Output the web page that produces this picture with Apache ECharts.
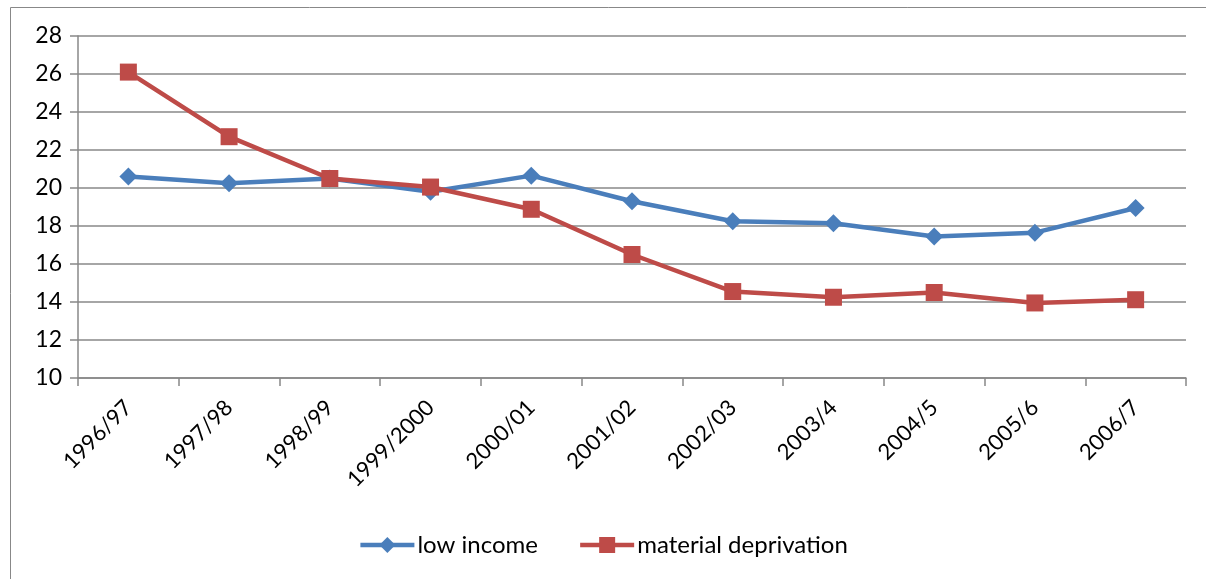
<!DOCTYPE html>
<html><head><meta charset="utf-8">
<script src="https://cdn.jsdelivr.net/npm/echarts@6/dist/echarts.min.js"></script>
<style>html,body{margin:0;padding:0;background:#fff}#c{width:1206px;height:579px}</style>
</head><body><div id="c"></div>
<script>
const categories = ['1996/97','1997/98','1998/99','1999/2000','2000/01','2001/02','2002/03','2003/4','2004/5','2005/6','2006/7'];
const lowIncome = [20.6, 20.25, 20.5, 19.8, 20.65, 19.3, 18.25, 18.15, 17.45, 17.65, 18.95];
const materialDeprivation = [26.1, 22.7, 20.5, 20.05, 18.88, 16.5, 14.55, 14.25, 14.5, 13.95, 14.12];
const yTicks = [10, 12, 14, 16, 18, 20, 22, 24, 26, 28];

const font = 'Lato, "Open Sans", sans-serif';
const chart = echarts.init(document.getElementById('c'));
chart.setOption({
  animation: false,
  graphic: [{type:'rect', shape:{x:10.5,y:7.5,width:1210,height:600}, style:{fill:'none',stroke:'#888',lineWidth:1}, silent:true}],
  grid: {left:78, right:20, top:36, bottom:201, containLabel:false},
  legend: {
    top: 528, left: 'center', itemWidth: 54, itemHeight: 20, itemGap: 40,
    lineStyle: {width: 4.5},
    textStyle: {fontFamily: font, fontSize: 24, color: '#000', padding:[0,0,0,-2]},
    data: ['low income','material deprivation']
  },
  xAxis: {
    type:'category', data: categories, boundaryGap: true,
    axisLine:{lineStyle:{color:'#888', width:1.5}},
    axisTick:{show:true, length:8, lineStyle:{color:'#888', width:1.5}},
    axisLabel:{rotate:45, fontFamily:font, fontSize:22, color:'#000', margin:26, interval:0}
  },
  yAxis: {
    type:'value', min: yTicks[0], max: yTicks[yTicks.length-1], interval: 2,
    axisLine:{show:true, lineStyle:{color:'#888', width:1.5}},
    axisTick:{show:true, length:8, lineStyle:{color:'#888', width:1.5}},
    splitLine:{lineStyle:{color:'#888', width:1.5}},
    axisLabel:{fontFamily:font, fontSize:23, color:'#000', margin:16}
  },
  series: [
    {name:'low income', type:'line', data: lowIncome, symbol:'diamond', symbolSize:18,
     lineStyle:{color:'#4a7ebb', width:4.5}, itemStyle:{color:'#4a7ebb'}},
    {name:'material deprivation', type:'line', data: materialDeprivation, symbol:'rect', symbolSize:17,
     lineStyle:{color:'#be4b48', width:4.5}, itemStyle:{color:'#be4b48'}}
  ]
});
</script></body></html>
